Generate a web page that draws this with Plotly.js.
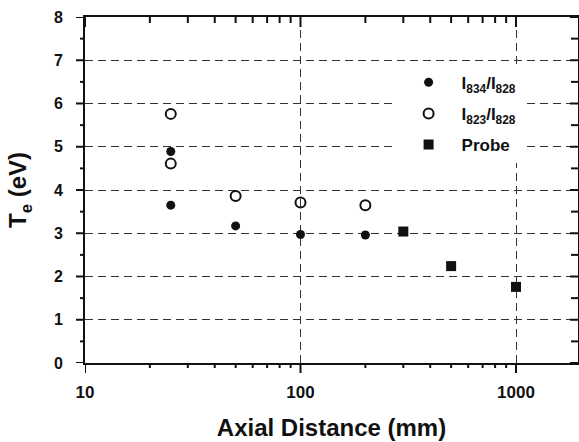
<!DOCTYPE html>
<html>
<head>
<meta charset="utf-8">
<script src="https://cdn.plot.ly/plotly-3.0.1.min.js"></script>
<style>
  html, body { margin: 0; padding: 0; background: #fff; }
  #chart { width: 579px; height: 442px; }
</style>
</head>
<body>
<div id="chart"></div>
<script>
// Electron temperature versus axial distance
const distI834 = [25, 25, 50, 100, 200];
const teI834   = [4.89, 3.65, 3.17, 2.97, 2.96];

const distI823 = [25, 25, 50, 100, 200];
const teI823   = [5.76, 4.61, 3.86, 3.71, 3.65];

const distProbe = [300, 500, 1000];
const teProbe   = [3.04, 2.24, 1.76];

// tick positions and labels
const xTickVals   = [10, 100, 1000];
const xTickText   = ['10', '100', '1000'];
const xMinorVals  = [20, 30, 40, 50, 60, 70, 80, 90, 200, 300, 400, 500, 600, 700, 800, 900];
const yTickVals   = [0, 1, 2, 3, 4, 5, 6, 7, 8];
const yMinorVals  = [0.5, 1.5, 2.5, 3.5, 4.5, 5.5, 6.5, 7.5];

const FONT = 'Liberation Sans, Arial, Helvetica, sans-serif';
const INK = '#111';
const xRange = [1, 3.2877];
const yRange = [0, 8];

const W = 579, H = 442;
const M = { l: 85, r: 1, t: 17, b: 79 };
const plotW = W - M.l - M.r;
const plotH = H - M.t - M.b;

const traces = [
  {
    x: distI834, y: teI834, type: 'scatter', mode: 'markers', legendgroup: 'a',
    name: 'I<sub>834</sub>/I<sub>828</sub>',
    marker: { symbol: 'circle', size: 9, color: INK }
  },
  {
    x: distI823, y: teI823, type: 'scatter', mode: 'markers', legendgroup: 'b',
    name: 'I<sub>823</sub>/I<sub>828</sub>',
    marker: { symbol: 'circle-open', size: 10, color: INK, line: { width: 2, color: INK } }
  },
  {
    x: distProbe, y: teProbe, type: 'scatter', mode: 'markers', legendgroup: 'c',
    name: 'Probe',
    marker: { symbol: 'square', size: 10, color: INK }
  }
];

// tick marks: outward on bottom/left, inward on top/right
const tickLine = { color: INK, width: 2 };
function xTicks(vals, base, lenPx, dir) {
  return vals.map(v => ({
    type: 'line', xref: 'x', yref: 'paper', layer: 'above',
    x0: v, x1: v, y0: base, y1: base + dir * lenPx / plotH, line: tickLine
  }));
}
function yTicks(vals, base, lenPx, dir) {
  return vals.map(v => ({
    type: 'line', xref: 'paper', yref: 'y', layer: 'above',
    x0: base, x1: base + dir * lenPx / plotW, y0: v, y1: v, line: tickLine
  }));
}
const tickShapes = [].concat(
  xTicks(xTickVals, 0, 10, -1), xTicks(xMinorVals, 0, 5, -1),
  xTicks(xTickVals, 1, 10, -1), xTicks(xMinorVals, 1, 6, -1),
  yTicks(yTickVals, 0, 9, -1), yTicks(yMinorVals, 0, 5, -1),
  yTicks(yTickVals, 1, 8, -1), yTicks(yMinorVals, 1, 7, -1)
);

const layout = {
  width: W, height: H,
  margin: M,
  showlegend: true,
  legend: {
    x: 0.63, y: 0.862, xanchor: 'left', yanchor: 'top',
    bgcolor: 'rgba(255,255,255,1)', borderwidth: 0,
    font: { family: FONT, size: 17, color: INK, weight: 'bold' },
    itemwidth: 56, traceorder: 'grouped', tracegroupgap: 6
  },
  shapes: tickShapes,
  xaxis: {
    type: 'log', range: xRange,
    tickmode: 'array', tickvals: xTickVals, ticktext: xTickText,
    ticks: '', ticklabelstandoff: 13,
    showline: true, mirror: true, linecolor: INK, linewidth: 2,
    showgrid: true, gridcolor: '#333', gridwidth: 1.2, griddash: '8px,5px',
    zeroline: false,
    tickfont: { family: FONT, size: 17, color: INK, weight: 'bold' },
    title: { text: 'Axial Distance (mm)', font: { family: FONT, size: 24, color: INK, weight: 'bold' }, standoff: 18 }
  },
  yaxis: {
    range: yRange,
    tickmode: 'array', tickvals: yTickVals,
    ticks: '', ticklabelstandoff: 17,
    showline: true, mirror: true, linecolor: INK, linewidth: 2,
    showgrid: true, gridcolor: '#333', gridwidth: 1.2, griddash: '8px,5px',
    zeroline: false,
    tickfont: { family: FONT, size: 16, color: INK, weight: 'bold' },
    title: { text: 'T<sub>e</sub> (eV)', font: { family: FONT, size: 24, color: INK, weight: 'bold' }, standoff: 20 }
  }
};

Plotly.newPlot('chart', traces, layout, { displayModeBar: false });
</script>
</body>
</html>
